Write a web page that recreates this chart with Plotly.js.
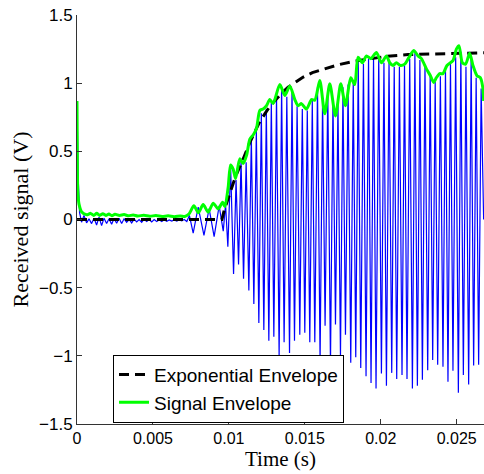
<!DOCTYPE html>
<html>
<head>
<meta charset="utf-8">
<script src="https://cdn.plot.ly/plotly-3.0.1.min.js"></script>
<style>html,body{margin:0;padding:0;background:#fff;}#chart{width:484px;height:474px;}</style>
</head>
<body>
<div id="chart"></div>
<script>
// ---- Received signal (blue): extrema ----
const quietTime = [0, 0.00008, 0.00017, 0.00030, 0.00046, 0.00063, 0.00079, 0.00096, 0.00112, 0.00129,
  0.00145, 0.00162, 0.00178, 0.00195, 0.00211, 0.00228, 0.00244, 0.00261, 0.00277, 0.00294,
  0.00310, 0.00327, 0.00343, 0.00360, 0.00376, 0.00393, 0.00409, 0.00426, 0.00442, 0.00459,
  0.00475, 0.00492, 0.00508, 0.00525, 0.00541, 0.00558, 0.00574, 0.00591, 0.00607, 0.00624,
  0.00640, 0.00657, 0.00673, 0.00690, 0.00706, 0.00723, 0.00740, 0.00765, 0.00798, 0.00836,
  0.00870, 0.00903, 0.00936, 0.00963];
const quietVolt = [0.85, 0.30, 0.05, -0.02, 0.03, -0.025, 0.005, -0.03, 0.01, -0.04,
  0.017, -0.045, 0.01, -0.03, 0.005, -0.035, 0.008, -0.028, 0.01, -0.03,
  0.005, -0.02, 0.0, -0.025, 0.003, -0.018, 0.0, -0.02, 0.002, -0.015,
  0.0, -0.017, 0.0, -0.015, -0.002, -0.014, -0.002, -0.013, -0.003, -0.012,
  -0.003, -0.012, -0.004, -0.010, 0.0, -0.015, 0.03, -0.10, 0.09, -0.117,
  0.08, -0.125, 0.10, -0.085];
const burstTime = [
  0.009783, 0.009934, 0.010118, 0.010309, 0.010474, 0.010638, 0.010803, 0.010967,
  0.011138, 0.011316, 0.011480, 0.011645, 0.011809, 0.011974, 0.012138, 0.012303,
  0.012467, 0.012632, 0.012796, 0.012961, 0.013138, 0.013309, 0.013474, 0.013638,
  0.013816, 0.013993, 0.014158, 0.014322, 0.014493, 0.014671, 0.014836, 0.015000,
  0.015164, 0.015329, 0.015493, 0.015658, 0.015836, 0.016007, 0.016171, 0.016336,
  0.016513, 0.016691, 0.016855, 0.017020, 0.017184, 0.017349, 0.017513, 0.017678,
  0.017849, 0.018026, 0.018191, 0.018355, 0.018520, 0.018684, 0.018862, 0.019033,
  0.019197, 0.019362, 0.019526, 0.019691, 0.019868, 0.020046, 0.020211, 0.020375,
  0.020546, 0.020724, 0.020888, 0.021053, 0.021230, 0.021401, 0.021566, 0.021730,
  0.021908, 0.022086, 0.022250, 0.022414, 0.022579, 0.022743, 0.022914, 0.023092,
  0.023257, 0.023421, 0.023586, 0.023750, 0.023928, 0.024099, 0.024263, 0.024428,
  0.024592, 0.024757, 0.024934, 0.025112, 0.025276, 0.025441, 0.025612, 0.025789,
  0.025954, 0.026118, 0.026283, 0.026447, 0.026612, 0.026776];
const burstVolt = [
  0.11, -0.20, 0.38, -0.40, 0.29, -0.33, 0.43, -0.435,
  0.42, -0.52, 0.60, -0.62, 0.65, -0.76, 0.78, -0.81,
  0.81, -0.89, 0.86, -0.86, 0.90, -1.00, 0.97, -0.90,
  0.90, -0.98, 0.95, -0.89, 0.83, -0.845, 0.81, -0.83,
  0.80, -0.90, 0.87, -0.90, 0.97, -1.045, 0.88, -0.78,
  0.95, -1.065, 0.88, -0.77, 0.85, -1.01, 0.97, -0.845,
  0.99, -1.05, 1.02, -1.01, 1.16, -1.09, 1.14, -1.15,
  1.18, -1.20, 1.18, -1.24, 1.20, -1.13, 1.15, -1.22,
  1.16, -1.125, 1.12, -1.17, 1.12, -1.14, 1.13, -1.17,
  1.18, -1.24, 1.22, -1.22, 1.17, -1.175, 1.13, -1.105,
  1.06, -1.03, 1.01, -1.065, 1.05, -1.08, 1.10, -1.19,
  1.14, -1.11, 1.19, -1.27, 1.23, -1.14, 1.12, -1.21,
  1.20, -1.07, 1.04, -1.065, 0.96, 0.0];

// ---- Signal envelope (green) ----
const envTime = [0, 0.00002, 0.00005, 0.00013, 0.00031, 0.00064, 0.0009, 0.0011, 0.0013, 0.0015,
  0.0017, 0.0019, 0.0021, 0.0023, 0.0025, 0.0028, 0.0031, 0.0034, 0.0037, 0.0040,
  0.0044, 0.0048, 0.0052, 0.0056, 0.0060, 0.0064, 0.0068, 0.0071, 0.00737, 0.007697,
  0.007993, 0.008309, 0.008638, 0.008967, 0.009296, 0.009586, 0.009737, 0.009954, 0.010112, 0.010283,
  0.010441, 0.010724, 0.010941, 0.011164, 0.011382, 0.011599, 0.011822, 0.012039, 0.012257, 0.012480,
  0.012697, 0.012914, 0.013355, 0.013684, 0.014013, 0.014342, 0.014559, 0.014783, 0.015112, 0.015441,
  0.015658, 0.015987, 0.016316, 0.016645, 0.017020, 0.017368, 0.017678, 0.018026, 0.018289, 0.018507,
  0.018796, 0.019059, 0.019342, 0.019717, 0.020046, 0.020375, 0.020592, 0.020809, 0.021033, 0.021296,
  0.021579, 0.021862, 0.022171, 0.022454, 0.022678, 0.023007, 0.023270, 0.023487, 0.023664, 0.023882,
  0.024099, 0.024362, 0.024757, 0.024980, 0.025151, 0.025375, 0.025592, 0.025855, 0.026072, 0.026336,
  0.026559, 0.026730, 0.026776];
const envVolt = [0.87, 0.50, 0.21, 0.115, 0.055, 0.035, 0.045, 0.030, 0.045, 0.030,
  0.042, 0.030, 0.040, 0.028, 0.038, 0.030, 0.036, 0.027, 0.033, 0.026,
  0.031, 0.024, 0.029, 0.022, 0.027, 0.021, 0.026, 0.022, 0.040, 0.100,
  0.050, 0.110, 0.054, 0.120, 0.078, 0.127, 0.095, 0.237, 0.400, 0.370,
  0.300, 0.445, 0.410, 0.470, 0.590, 0.620, 0.670, 0.800, 0.810, 0.835,
  0.880, 0.850, 0.990, 0.910, 0.980, 0.880, 0.835, 0.850, 0.810, 0.880,
  0.875, 1.020, 0.775, 0.995, 0.760, 0.995, 0.835, 1.040, 0.990, 1.190,
  1.150, 1.200, 1.180, 1.225, 1.150, 1.200, 1.150, 1.130, 1.150, 1.130,
  1.140, 1.190, 1.240, 1.200, 1.180, 1.105, 1.055, 1.005, 1.040, 1.070,
  1.070, 1.130, 1.165, 1.250, 1.275, 1.150, 1.140, 1.220, 1.130, 1.055,
  1.040, 0.960, 0.870];

// ---- Exponential envelope (black dashed) ----
const expTime = [0, 0.00954, 0.0097, 0.0099, 0.0101, 0.0103, 0.0105, 0.0107, 0.0110, 0.0114, 0.0117,
  0.0120, 0.0124, 0.0127, 0.0131, 0.0135, 0.0139, 0.0143, 0.0149, 0.0155, 0.0160, 0.0165, 0.0172,
  0.0182, 0.0191, 0.0204, 0.0218, 0.0232, 0.0248, 0.0268];
const expVolt = [0, 0, 0.07, 0.14, 0.21, 0.27, 0.33, 0.38, 0.46, 0.57, 0.64,
  0.71, 0.78, 0.83, 0.88, 0.93, 0.97, 1.00, 1.045, 1.077, 1.095, 1.11, 1.135,
  1.16, 1.175, 1.197, 1.21, 1.214, 1.22, 1.223];

const xTicks = [0, 0.005, 0.01, 0.015, 0.02, 0.025];
const xTickText = ['0', '0.005', '0.01', '0.015', '0.02', '0.025'];
const yTicks = [-1.5, -1, -0.5, 0, 0.5, 1, 1.5];
const yTickText = ['\u22121.5', '\u22121', '\u22120.5', '0', '0.5', '1', '1.5'];
const xLabel = 'Time (s)';
const yLabel = 'Received signal (V)';

const traces = [
  {x: quietTime.concat(burstTime), y: quietVolt.concat(burstVolt), type: 'scatter', mode: 'lines',
   line: {color: '#0000ff', width: 1.2}, showlegend: false, hoverinfo: 'skip'},
  {x: expTime, y: expVolt, type: 'scatter', mode: 'lines', name: 'Exponential Envelope',
   line: {color: '#000000', width: 3, dash: '10px,6px'}},
  {x: envTime, y: envVolt, type: 'scatter', mode: 'lines', name: 'Signal Envelope',
   line: {color: '#00ff00', width: 3, shape: 'spline', smoothing: 0.7}}
];

const sans = 'Liberation Sans, Arial, Helvetica, sans-serif';
const serif = 'Liberation Serif, Times New Roman, serif';

const layout = {
  width: 484, height: 474,
  margin: {l: 77, r: 0, t: 15, b: 50, pad: 0},
  paper_bgcolor: '#ffffff', plot_bgcolor: '#ffffff',
  showlegend: true,
  legend: {x: 0.0885, y: 0.003, xanchor: 'left', yanchor: 'bottom',
           bgcolor: '#ffffff', bordercolor: '#000000', borderwidth: 1,
           font: {family: sans, size: 19, color: '#000'}, tracegroupgap: 0},
  xaxis: {range: [0, 0.0268], tickvals: xTicks, ticktext: xTickText,
          ticks: 'inside', ticklen: 5, tickcolor: '#333', showline: true, linecolor: '#333', linewidth: 1,
          showgrid: false, zeroline: false, mirror: false,
          tickfont: {family: sans, size: 16, color: '#000'}},
  yaxis: {range: [-1.5, 1.5], tickvals: yTicks, ticktext: yTickText,
          ticks: 'inside', ticklen: 5, tickcolor: '#333', showline: true, linecolor: '#333', linewidth: 1,
          showgrid: false, zeroline: false, mirror: false,
          tickfont: {family: sans, size: 17, color: '#000'},
          title: {text: yLabel, font: {family: serif, size: 22, color: '#000'}, standoff: 4}},
  annotations: [{text: xLabel, xref: 'paper', yref: 'paper', x: 0.5, y: -0.0525,
                 xanchor: 'center', yanchor: 'top', showarrow: false,
                 font: {family: serif, size: 21, color: '#000'}}]
};

Plotly.newPlot('chart', traces, layout, {staticPlot: true, displayModeBar: false});
</script>
</body>
</html>
